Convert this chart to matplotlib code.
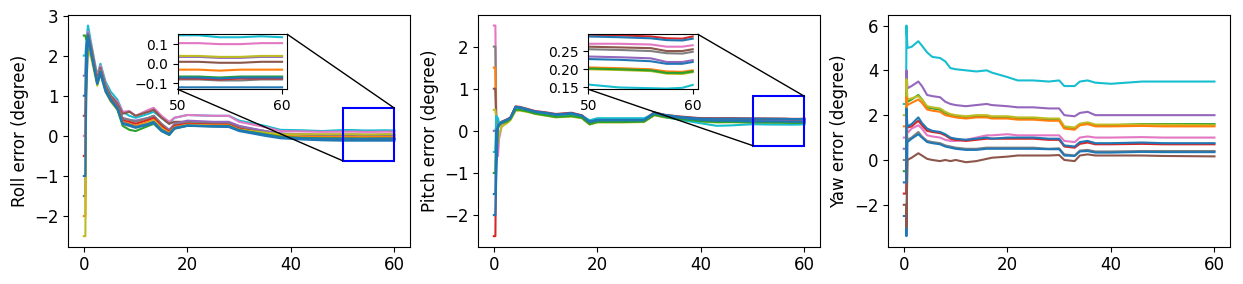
import matplotlib
matplotlib.use("Agg")
import matplotlib.pyplot as plt
from matplotlib.patches import Rectangle, ConnectionPatch

# ---- roll ----
t_roll = [0, 0.3, 0.45, 0.8, 1.5, 2.6, 3.2, 4.2, 5.2, 6.5, 7.5, 8.8, 10, 12.5, 13.5, 15,
          16.5, 17.5, 20, 25, 28, 30, 35, 38, 42, 46, 50, 52, 54, 56, 58, 60]
roll_colors = ["tab:cyan", "tab:pink", "tab:brown", "tab:purple", "tab:gray", "tab:red",
               "tab:orange", "tab:olive", "tab:green", "tab:blue", "tab:blue"]
roll_values = [
    [2.0, 2.0, 2.3, 2.75, 2.25, 1.5, 1.8, 1.35, 1.1, 0.9, 0.6, 0.5, 0.45, 0.55, 0.6, 0.45, 0.3, 0.45, 0.52, 0.5, 0.5, 0.38, 0.25, 0.15, 0.14, 0.12, 0.145, 0.145, 0.135, 0.135, 0.14, 0.135],
    [0.0, 0.0, 1.8, 2.6, 2.2, 1.45, 1.75, 1.3, 1.0, 0.85, 0.6, 0.62, 0.5, 0.65, 0.7, 0.5, 0.35, 0.45, 0.52, 0.5, 0.5, 0.35, 0.22, 0.12, 0.11, 0.1, 0.105, 0.105, 0.1, 0.1, 0.105, 0.105],
    [0.5, 0.5, 2.0, 2.55, 2.15, 1.4, 1.7, 1.25, 1.0, 0.8, 0.55, 0.6, 0.5, 0.6, 0.65, 0.45, 0.3, 0.35, 0.35, 0.32, 0.32, 0.22, 0.12, 0.05, 0.03, 0.01, 0.01, 0.01, 0.005, 0.005, 0.01, 0.01],
    [1.5, 1.5, 2.2, 2.55, 2.1, 1.35, 1.65, 1.2, 0.95, 0.75, 0.45, 0.4, 0.38, 0.45, 0.5, 0.3, 0.15, 0.3, 0.38, 0.35, 0.35, 0.25, 0.12, 0.06, 0.04, 0.03, 0.035, 0.035, 0.03, 0.03, 0.035, 0.035],
    [-1.5, -1.5, 1.5, 2.5, 2.1, 1.35, 1.65, 1.2, 0.95, 0.75, 0.42, 0.4, 0.35, 0.45, 0.5, 0.3, 0.12, 0.28, 0.33, 0.3, 0.3, 0.2, 0.08, 0.0, -0.04, -0.06, -0.08, -0.08, -0.085, -0.085, -0.08, -0.08],
    [-0.5, -0.5, 1.6, 2.5, 2.05, 1.3, 1.6, 1.15, 0.92, 0.72, 0.38, 0.35, 0.3, 0.4, 0.45, 0.25, 0.1, 0.25, 0.3, 0.28, 0.28, 0.18, 0.06, -0.01, -0.04, -0.06, -0.075, -0.075, -0.08, -0.075, -0.075, -0.075],
    [-2.0, -2.0, 1.2, 2.45, 2.05, 1.3, 1.6, 1.15, 0.9, 0.7, 0.35, 0.3, 0.25, 0.35, 0.4, 0.2, 0.08, 0.22, 0.28, 0.26, 0.26, 0.16, 0.06, 0.0, -0.02, -0.03, -0.03, -0.03, -0.035, -0.03, -0.03, -0.03],
    [-2.5, -2.5, 1.0, 2.2, 1.9, 1.25, 1.55, 1.1, 0.85, 0.65, 0.3, 0.25, 0.22, 0.32, 0.38, 0.18, 0.05, 0.2, 0.27, 0.25, 0.25, 0.15, 0.08, 0.04, 0.04, 0.04, 0.04, 0.04, 0.035, 0.035, 0.04, 0.04],
    [2.5, 2.5, 2.4, 2.5, 2.0, 1.3, 1.6, 1.15, 0.9, 0.65, 0.25, 0.15, 0.12, 0.25, 0.3, 0.12, 0.02, 0.18, 0.25, 0.24, 0.24, 0.14, 0.04, -0.02, -0.05, -0.06, -0.065, -0.065, -0.07, -0.065, -0.065, -0.065],
    [1.0, 1.0, 2.2, 2.5, 2.05, 1.3, 1.6, 1.15, 0.9, 0.7, 0.32, 0.28, 0.22, 0.3, 0.35, 0.15, 0.05, 0.2, 0.26, 0.24, 0.24, 0.14, 0.03, -0.04, -0.06, -0.07, -0.07, -0.07, -0.075, -0.07, -0.07, -0.07],
    [-1.0, -1.0, 1.0, 2.45, 2.0, 1.3, 1.55, 1.1, 0.88, 0.68, 0.3, 0.25, 0.2, 0.28, 0.32, 0.12, 0.03, 0.18, 0.25, 0.23, 0.22, 0.12, 0.0, -0.06, -0.09, -0.11, -0.12, -0.12, -0.12, -0.12, -0.12, -0.12],
]

# ---- pitch ----
t_pitch = [0, 0.3, 0.45, 0.8, 1.0, 1.5, 2.5, 3.2, 4.2, 5, 6.5, 8, 10, 12, 15, 17, 18.5, 20,
           25, 29, 31, 33, 36, 40, 43, 46, 50, 53, 56, 57.5, 59, 60]
pitch_colors = ["tab:pink", "tab:red", "tab:gray", "tab:orange", "tab:brown", "tab:olive",
                "tab:purple", "tab:cyan", "tab:green", "tab:blue", "tab:blue"]
pitch_values = [
    [2.5, 2.5, 0.5, -0.6, -0.2, 0.1, 0.22, 0.3, 0.55, 0.55, 0.5, 0.45, 0.42, 0.36, 0.4, 0.35, 0.2, 0.25, 0.24, 0.25, 0.42, 0.37, 0.32, 0.29, 0.28, 0.285, 0.27, 0.27, 0.268, 0.262, 0.262, 0.266],
    [-2.5, -2.5, -0.3, 0.1, 0.15, 0.22, 0.27, 0.32, 0.58, 0.57, 0.52, 0.47, 0.44, 0.4, 0.43, 0.37, 0.23, 0.27, 0.27, 0.27, 0.44, 0.38, 0.34, 0.3, 0.3, 0.3, 0.295, 0.293, 0.29, 0.285, 0.284, 0.29],
    [2.0, 2.0, 0.3, 0.15, 0.18, 0.2, 0.25, 0.3, 0.55, 0.54, 0.5, 0.45, 0.42, 0.37, 0.4, 0.35, 0.2, 0.25, 0.25, 0.25, 0.42, 0.36, 0.31, 0.27, 0.26, 0.265, 0.255, 0.253, 0.25, 0.244, 0.243, 0.248],
    [1.5, 1.5, 0.2, 0.1, 0.12, 0.18, 0.22, 0.28, 0.5, 0.5, 0.47, 0.42, 0.38, 0.34, 0.36, 0.31, 0.16, 0.21, 0.22, 0.22, 0.38, 0.33, 0.28, 0.23, 0.21, 0.215, 0.205, 0.203, 0.2, 0.194, 0.193, 0.197],
    [1.0, 1.0, 0.3, 0.15, 0.17, 0.2, 0.25, 0.3, 0.56, 0.55, 0.5, 0.45, 0.42, 0.37, 0.41, 0.35, 0.2, 0.25, 0.25, 0.26, 0.42, 0.37, 0.32, 0.28, 0.27, 0.27, 0.262, 0.26, 0.258, 0.25, 0.25, 0.255],
    [0.5, 0.5, 0.3, -0.3, -0.1, 0.1, 0.18, 0.25, 0.48, 0.48, 0.45, 0.4, 0.36, 0.32, 0.34, 0.3, 0.15, 0.2, 0.2, 0.21, 0.37, 0.32, 0.27, 0.22, 0.2, 0.205, 0.2, 0.198, 0.195, 0.188, 0.187, 0.192],
    [0.0, 0.0, 0.1, 0.15, 0.18, 0.2, 0.26, 0.3, 0.57, 0.56, 0.5, 0.45, 0.42, 0.37, 0.4, 0.35, 0.2, 0.24, 0.24, 0.25, 0.41, 0.35, 0.3, 0.26, 0.245, 0.245, 0.235, 0.233, 0.23, 0.22, 0.22, 0.225],
    [-0.5, -0.5, 0.35, 0.3, 0.2, 0.2, 0.25, 0.3, 0.52, 0.52, 0.48, 0.43, 0.4, 0.36, 0.38, 0.34, 0.25, 0.3, 0.3, 0.3, 0.4, 0.33, 0.26, 0.18, 0.12, 0.13, 0.158, 0.15, 0.148, 0.147, 0.149, 0.157],
    [-1.0, -1.0, 0.0, 0.05, 0.12, 0.18, 0.22, 0.28, 0.5, 0.5, 0.46, 0.41, 0.37, 0.33, 0.35, 0.31, 0.16, 0.21, 0.21, 0.22, 0.38, 0.33, 0.28, 0.23, 0.21, 0.21, 0.202, 0.2, 0.197, 0.19, 0.19, 0.194],
    [-1.5, -1.5, 0.0, 0.1, 0.15, 0.2, 0.26, 0.31, 0.57, 0.56, 0.51, 0.46, 0.43, 0.39, 0.42, 0.36, 0.22, 0.26, 0.26, 0.26, 0.43, 0.38, 0.33, 0.29, 0.29, 0.29, 0.29, 0.288, 0.285, 0.28, 0.279, 0.284],
    [-2.0, -2.0, -1.2, 0.1, 0.15, 0.2, 0.26, 0.3, 0.56, 0.55, 0.5, 0.45, 0.42, 0.38, 0.41, 0.36, 0.21, 0.25, 0.25, 0.25, 0.42, 0.36, 0.31, 0.26, 0.24, 0.24, 0.228, 0.226, 0.222, 0.215, 0.215, 0.22],
]

# ---- yaw ----
t_yaw = [0, 0.45, 0.5, 0.7, 1.5, 2.8, 3.5, 4.5, 5.5, 7, 8, 9, 10, 12, 14, 16, 17, 20, 22, 25,
         28, 30, 31, 33, 34, 35.5, 37, 40, 46, 50, 55, 60]
yaw_colors = ["tab:cyan", "tab:purple", "tab:green", "tab:olive", "tab:orange", "tab:pink",
              "tab:red", "tab:gray", "tab:blue", "tab:brown", "tab:blue"]
yaw_values = [
    [2.5, 2.5, 6.0, 5.0, 5.05, 5.3, 5.1, 4.8, 4.6, 4.55, 4.4, 4.1, 4.05, 4.0, 3.95, 4.0, 3.9, 3.7, 3.55, 3.55, 3.5, 3.55, 3.3, 3.3, 3.5, 3.55, 3.45, 3.4, 3.5, 3.5, 3.5, 3.5],
    [0.5, 0.5, 4.0, 3.2, 3.3, 3.5, 3.3, 2.9, 2.85, 2.8, 2.6, 2.5, 2.45, 2.4, 2.45, 2.5, 2.45, 2.4, 2.35, 2.35, 2.3, 2.3, 2.0, 1.95, 2.1, 2.15, 2.0, 2.0, 2.0, 2.0, 2.0, 2.0],
    [-0.5, -0.5, 3.0, 2.6, 2.7, 2.9, 2.7, 2.35, 2.3, 2.25, 2.1, 2.0, 1.95, 1.9, 1.95, 1.95, 1.9, 1.9, 1.85, 1.85, 1.8, 1.8, 1.45, 1.4, 1.6, 1.65, 1.55, 1.55, 1.6, 1.6, 1.6, 1.6],
    [2.0, 2.0, 3.6, 2.7, 2.75, 2.85, 2.7, 2.4, 2.35, 2.3, 2.15, 2.05, 2.0, 1.95, 2.0, 2.0, 1.95, 1.95, 1.9, 1.9, 1.85, 1.85, 1.5, 1.45, 1.62, 1.68, 1.58, 1.58, 1.58, 1.57, 1.56, 1.55],
    [1.5, 1.5, 2.8, 2.45, 2.55, 2.7, 2.55, 2.25, 2.2, 2.15, 2.0, 1.95, 1.9, 1.85, 1.9, 1.9, 1.85, 1.85, 1.8, 1.8, 1.75, 1.75, 1.4, 1.35, 1.55, 1.6, 1.5, 1.5, 1.52, 1.5, 1.5, 1.5],
    [1.0, 1.0, 2.0, 1.2, 1.4, 1.55, 1.4, 1.1, 1.05, 1.0, 0.9, 0.85, 0.85, 0.9, 1.0, 1.1, 1.1, 1.15, 1.1, 1.1, 1.1, 1.1, 0.85, 0.8, 1.0, 1.05, 1.0, 1.0, 1.02, 1.0, 1.0, 1.0],
    [-1.5, -1.5, 1.5, 1.45, 1.5, 1.75, 1.55, 1.3, 1.25, 1.2, 1.1, 0.95, 0.9, 0.85, 0.9, 0.95, 0.95, 0.95, 0.95, 0.95, 0.9, 0.9, 0.6, 0.55, 0.72, 0.78, 0.7, 0.7, 0.72, 0.7, 0.7, 0.7],
    [0.0, 0.0, 1.5, 0.9, 1.0, 1.25, 1.05, 0.85, 0.8, 0.75, 0.65, 0.6, 0.55, 0.5, 0.5, 0.55, 0.55, 0.55, 0.55, 0.55, 0.5, 0.52, 0.25, 0.2, 0.42, 0.45, 0.38, 0.38, 0.4, 0.4, 0.4, 0.4],
    [-2.5, -2.5, -3.4, 0.8, 0.95, 1.15, 1.0, 0.8, 0.75, 0.7, 0.6, 0.55, 0.5, 0.45, 0.45, 0.5, 0.5, 0.5, 0.5, 0.5, 0.48, 0.48, 0.2, 0.18, 0.38, 0.4, 0.33, 0.33, 0.36, 0.35, 0.35, 0.35],
    [-2.0, -2.0, -3.0, 0.0, 0.1, 0.3, 0.2, 0.05, 0.0, -0.05, 0.0, -0.05, 0.0, -0.1, -0.05, 0.05, 0.1, 0.15, 0.2, 0.2, 0.2, 0.22, 0.0, -0.05, 0.2, 0.25, 0.2, 0.2, 0.2, 0.18, 0.17, 0.16],
    [-1.0, -1.0, 2.3, 1.5, 1.6, 1.9, 1.65, 1.4, 1.3, 1.25, 1.15, 1.0, 0.95, 0.9, 0.95, 1.0, 0.95, 1.0, 1.0, 1.0, 0.95, 0.95, 0.65, 0.6, 0.8, 0.85, 0.75, 0.75, 0.78, 0.75, 0.75, 0.75],
]

fig = plt.figure(figsize=(12.43, 2.84), dpi=100)
lefts = [68.3, 478.3, 888.3]
W, H = 1243.0, 284.0
axes = [fig.add_axes([l / W, 1 - 246.7 / H, 341.7 / W, (246.7 - 15) / H]) for l in lefts]

panels = [(t_roll, roll_colors, roll_values, "Roll error (degree)"),
          (t_pitch, pitch_colors, pitch_values, "Pitch error (degree)"),
          (t_yaw, yaw_colors, yaw_values, "Yaw error (degree)")]

for ax, (t, cols, vals, lab) in zip(axes, panels):
    for c, v in zip(cols, vals):
        ax.plot(t, v, color=c, lw=1.5)
    ax.set_ylabel(lab, fontsize=12)
    ax.tick_params(labelsize=12)
    ax.set_xticks([0, 20, 40, 60])

# insets with zoom boxes
inset_cfg = [
    (axes[0], roll_colors, roll_values, t_roll, 177.7, (-0.13, 0.15), [-0.1, 0.0, 0.1], (-0.62, 0.69)),
    (axes[1], pitch_colors, pitch_values, t_pitch, 588.3, (0.145, 0.296), [0.15, 0.20, 0.25], (-0.35, 0.82)),
]
for ax, cols, vals, t, left, ylim, yt, box in inset_cfg:
    axins = fig.add_axes([left / W, 1 - 89.3 / H, 109.6 / W, 55 / H])
    for c, v in zip(cols, vals):
        axins.plot(t, v, color=c, lw=1.5)
    axins.set_xlim(50, 60.5)
    axins.set_ylim(*ylim)
    axins.set_xticks([50, 60])
    axins.set_yticks(yt)
    axins.tick_params(labelsize=10)
    ax.add_patch(Rectangle((50, box[0]), 10, box[1] - box[0], fill=False,
                           ec="blue", lw=1.5, zorder=5))
    for pa, pb in [((1, 1), (60, box[1])), ((0, 0), (50, box[0]))]:
        con = ConnectionPatch(xyA=pa, coordsA=axins.transAxes, xyB=pb,
                              coordsB=ax.transData, color="black", lw=1)
        fig.add_artist(con)

fig.savefig("out.png", dpi=100)
